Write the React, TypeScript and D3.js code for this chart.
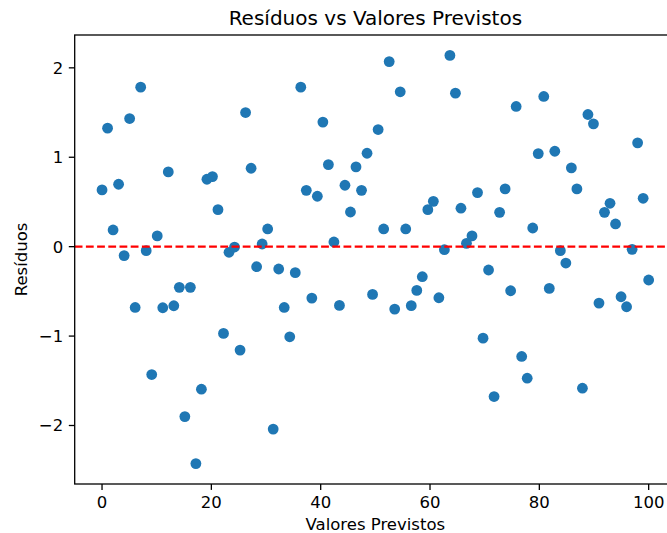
import React from "react";
import * as d3 from "d3";

const predicted = [
  0, 1.01, 2.02, 3.03, 4.04, 5.05, 6.06, 7.07, 8.08, 9.09,
  10.1, 11.11, 12.12, 13.13, 14.14, 15.15, 16.16, 17.17, 18.18, 19.19,
  20.2, 21.21, 22.22, 23.23, 24.24, 25.25, 26.26, 27.27, 28.28, 29.29,
  30.3, 31.31, 32.32, 33.33, 34.34, 35.35, 36.36, 37.37, 38.38, 39.39,
  40.4, 41.41, 42.42, 43.43, 44.44, 45.45, 46.46, 47.47, 48.48, 49.49,
  50.51, 51.52, 52.53, 53.54, 54.55, 55.56, 56.57, 57.58, 58.59, 59.6,
  60.61, 61.62, 62.63, 63.64, 64.65, 65.66, 66.67, 67.68, 68.69, 69.7,
  70.71, 71.72, 72.73, 73.74, 74.75, 75.76, 76.77, 77.78, 78.79, 79.8,
  80.81, 81.82, 82.83, 83.84, 84.85, 85.86, 86.87, 87.88, 88.89, 89.9,
  90.91, 91.92, 92.93, 93.94, 94.95, 95.96, 96.97, 97.98, 98.99, 100,
];

const residuals = [
  0.635, 1.325, 0.187, 0.698, -0.1, 1.433, -0.68, 1.784, -0.045, -1.43,
  0.12, -0.683, 0.836, -0.661, -0.455, -1.9, -0.455, -2.426, -1.594, 0.754,
  0.784, 0.414, -0.97, -0.063, -0.004, -1.157, 1.5, 0.877, -0.224, 0.03,
  0.198, -2.04, -0.25, -0.68, -1.008, -0.291, 1.784, 0.63, -0.575, 0.564,
  1.393, 0.918, 0.052, -0.657, 0.687, 0.388, 0.892, 0.63, 1.045, -0.534,
  1.31, 0.198, 2.07, -0.698, 1.732, 0.198, -0.66, -0.489, -0.336, 0.414,
  0.507, -0.571, -0.034, 2.139, 1.717, 0.43, 0.037, 0.12, 0.605, -1.023,
  -0.261, -1.676, 0.384, 0.646, -0.493, 1.568, -1.228, -1.471, 0.209, 1.041,
  1.68, -0.467, 1.067, -0.045, -0.183, 0.881, 0.646, -1.583, 1.478, 1.374,
  -0.631, 0.384, 0.485, 0.254, -0.56, -0.672, -0.03, 1.161, 0.541, -0.373,
];

const xTicks = [0, 20, 40, 60, 80, 100];
const yTicks = [-2, -1, 0, 1, 2];

const title = "Resíduos vs Valores Previstos";
const xLabel = "Valores Previstos";
const yLabel = "Resíduos";

const W = 667;
const H = 533;
const left = 74.7;
const right = 676;
const top = 35;
const bottom = 484;
const font = "'DejaVu Sans', sans-serif";
const tickFont = 16.5;
const tickLen = 5.9;

export default function App() {
  const xExt = d3.extent(predicted) as [number, number];
  const xPad = (xExt[1] - xExt[0]) * 0.05;
  const x = d3.scaleLinear().domain([xExt[0] - xPad, xExt[1] + xPad]).range([left, right]);
  const yExt = d3.extent(residuals) as [number, number];
  const yPad = (yExt[1] - yExt[0]) * 0.05;
  const y = d3.scaleLinear().domain([yExt[0] - yPad, yExt[1] + yPad]).range([bottom, top]);
  const fmt = (v: number) => (v < 0 ? "\u2212" + Math.abs(v) : String(v));

  return (
    <svg
      width={W}
      height={H}
      style={{ position: "absolute", left: 0, top: 0, display: "block", background: "#fff" }}
      fontFamily={font}
    >
      <defs>
        <clipPath id="plot">
          <rect x={left} y={top} width={right - left} height={bottom - top} />
        </clipPath>
      </defs>
      <rect x={0} y={0} width={W} height={H} fill="#fff" />
      <g clipPath="url(#plot)">
        {predicted.map((p, i) => (
          <circle key={i} cx={x(p)} cy={y(residuals[i])} r={5.4} fill="#1f77b4" />
        ))}
        <line
          x1={left}
          x2={right}
          y1={y(0)}
          y2={y(0)}
          stroke="#ff0000"
          strokeWidth={2.2}
          strokeDasharray="7.8 3.4"
        />
      </g>
      <rect
        x={left}
        y={top}
        width={right - left}
        height={bottom - top}
        fill="none"
        stroke="#000"
        strokeWidth={1.3}
      />
      {xTicks.map((t) => (
        <g key={"x" + t}>
          <line x1={x(t)} x2={x(t)} y1={bottom} y2={bottom + tickLen} stroke="#000" strokeWidth={1.3} />
          <text x={x(t)} y={508} textAnchor="middle" fontSize={tickFont} fill="#000">
            {fmt(t)}
          </text>
        </g>
      ))}
      {yTicks.map((t) => (
        <g key={"y" + t}>
          <line x1={left - tickLen} x2={left} y1={y(t)} y2={y(t)} stroke="#000" strokeWidth={1.3} />
          <text x={left - 11.5} y={y(t)} dy="0.36em" textAnchor="end" fontSize={tickFont} fill="#000">
            {fmt(t)}
          </text>
        </g>
      ))}
      <text x={(left + right) / 2} y={25} textAnchor="middle" fontSize={20} fill="#000">
        {title}
      </text>
      <text x={(left + right) / 2} y={530} textAnchor="middle" fontSize={tickFont} fill="#000">
        {xLabel}
      </text>
      <text
        transform={`translate(27, ${(top + bottom) / 2}) rotate(-90)`}
        textAnchor="middle"
        fontSize={tickFont}
        fill="#000"
      >
        {yLabel}
      </text>
    </svg>
  );
}
